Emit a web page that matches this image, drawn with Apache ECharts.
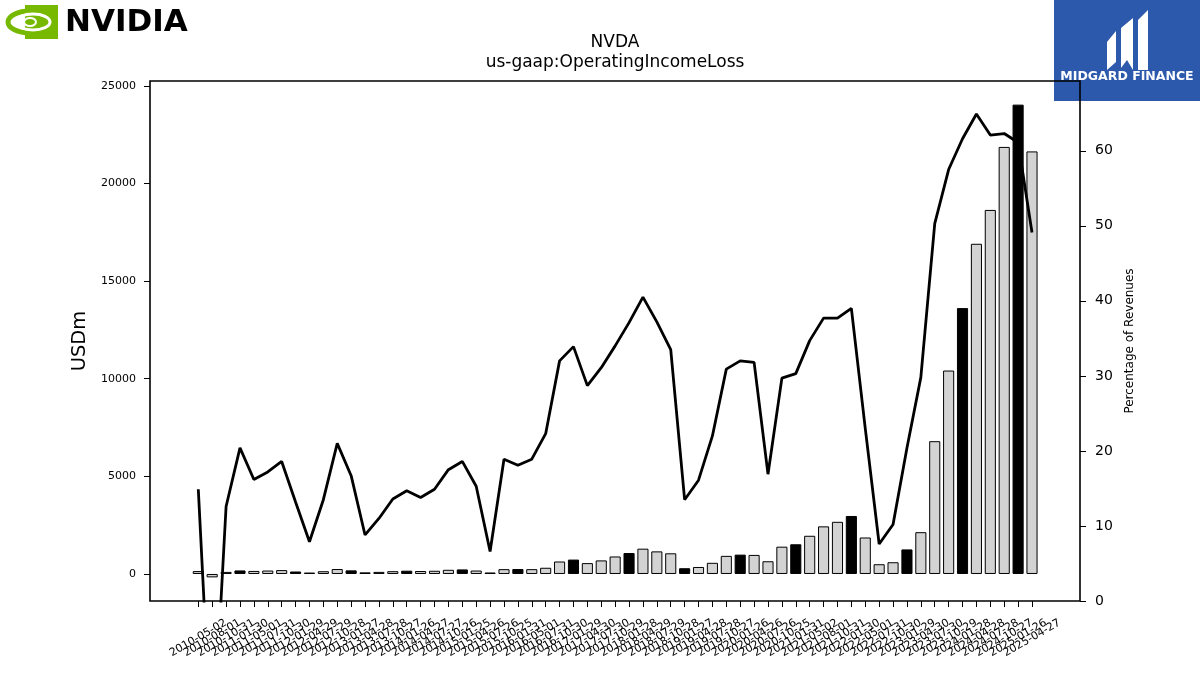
<!DOCTYPE html>
<html>
<head>
<meta charset="utf-8">
<script src="https://cdn.jsdelivr.net/npm/echarts@6/dist/echarts.min.js"></script>
<style>
html,body{margin:0;padding:0;background:#fff;}
#chart{width:1200px;height:675px;}
</style>
</head>
<body>
<div id="chart"></div>
<script>
// ---- data ----
const periods = [
  '2010-05-02','2010-08-01','2010-10-31','2011-01-30',
  '2011-05-01','2011-07-31','2011-10-30','2012-01-29',
  '2012-04-29','2012-07-29','2012-10-28','2013-01-27',
  '2013-04-28','2013-07-28','2013-10-27','2014-01-26',
  '2014-04-27','2014-07-27','2014-10-26','2015-01-25',
  '2015-04-26','2015-07-26','2015-10-25','2016-01-31',
  '2016-05-01','2016-07-31','2016-10-30','2017-01-29',
  '2017-04-30','2017-07-30','2017-10-29','2018-01-28',
  '2018-04-29','2018-07-29','2018-10-28','2019-01-27',
  '2019-04-28','2019-07-28','2019-10-27','2020-01-26',
  '2020-04-26','2020-07-26','2020-10-25','2021-01-31',
  '2021-05-02','2021-08-01','2021-10-31','2022-01-30',
  '2022-05-01','2022-07-31','2022-10-30','2023-01-29',
  '2023-04-30','2023-07-30','2023-10-29','2024-01-28',
  '2024-04-28','2024-07-28','2024-10-27','2025-01-26',
  '2025-04-27'
];
const operatingIncome = [
  149, -174, 106, 181,
  156, 175, 198, 126,
  73, 141, 253, 185,
  84, 107, 143, 168,
  152, 164, 214, 233,
  176, 76, 247, 254,
  247, 318, 639, 737,
  556, 694, 896, 1073,
  1295, 1157, 1058, 294,
  358, 571, 927, 990,
  976, 651, 1398, 1521,
  1956, 2438, 2671, 2970,
  1868, 499, 601, 1257,
  2140, 6800, 10417, 13615,
  16909, 18642, 21869, 24034,
  21638
];
const marginPct = [
  14.9, -21.5, 12.6, 20.4,
  16.2, 17.2, 18.6, 13.2,
  7.9, 13.5, 21.0, 16.7,
  8.8, 11.0, 13.6, 14.7,
  13.8, 14.9, 17.5, 18.6,
  15.3, 6.6, 18.9, 18.1,
  18.9, 22.3, 32.0, 33.9,
  28.7, 31.1, 34.0, 37.1,
  40.5, 37.2, 33.5, 13.5,
  16.1, 22.0, 30.9, 32.0,
  31.8, 16.9, 29.7, 30.3,
  34.7, 37.7, 37.7, 39.0,
  23.0, 7.6, 10.2, 20.4,
  29.8, 50.3, 57.5, 61.6,
  64.9, 62.1, 62.3, 61.1,
  49.1
];
const leftTicks = [0, 5000, 10000, 15000, 20000, 25000];
const rightTicks = [0, 10, 20, 30, 40, 50, 60];

// ---- chart ----
const FONT = 'DejaVu Sans';
const chart = echarts.init(document.getElementById('chart'), null, {renderer: 'canvas'});

const barData = operatingIncome.map((v, i) => ({
  value: v,
  itemStyle: { color: periods[i].slice(5, 7) === '01' ? '#000000' : '#d3d3d3' }
}));

const plotL = 150, plotR = 1080, plotT = 81, plotB = 601;
const n = periods.length;
const firstTick = 198.3, lastTick = 1032;
const band = (lastTick - firstTick) / (n - 1);
const gridLeft = firstTick - band / 2;
const gridRightEdge = lastTick + band / 2;

const option = {
  animation: false,
  backgroundColor: '#ffffff',
  grid: {
    left: gridLeft,
    right: 1200 - gridRightEdge,
    top: plotT,
    bottom: 675 - plotB,
    containLabel: false
  },
  xAxis: {
    type: 'category',
    data: periods,
    boundaryGap: true,
    position: 'bottom',
    axisLine: { show: false, onZero: false },
    axisTick: { show: true, alignWithLabel: true, length: 6, lineStyle: { color: '#000', width: 1 } },
    axisLabel: {
      interval: 0, rotate: 30, align: 'center', verticalAlign: 'middle',
      margin: 37, fontFamily: FONT, fontSize: 11, color: '#000', hideOverlap: false
    },
    splitLine: { show: false }
  },
  yAxis: [
    {
      type: 'value', position: 'left', offset: gridLeft - plotL,
      min: -1384, max: 25244,
      axisLine: { show: false },
      axisTick: { show: true, length: 6, customValues: leftTicks, lineStyle: { color: '#000', width: 1 } },
      axisLabel: { customValues: leftTicks, formatter: v => String(v), fontFamily: FONT, fontSize: 11, color: '#000', margin: 14 },
      splitLine: { show: false },
      name: 'USDm', nameLocation: 'middle', nameGap: 60, nameRotate: 90,
      nameTextStyle: { fontFamily: FONT, fontSize: 19.5, color: '#000' }
    },
    {
      type: 'value', position: 'right', offset: plotR - gridRightEdge,
      min: 0, max: 69.3,
      axisLine: { show: false },
      axisTick: { show: true, length: 6, customValues: rightTicks, lineStyle: { color: '#000', width: 1 } },
      axisLabel: { customValues: rightTicks, formatter: v => String(v), fontFamily: FONT, fontSize: 14, color: '#000', margin: 15 },
      splitLine: { show: false },
      name: 'Percentage of Revenues', nameLocation: 'middle', nameGap: 41, nameRotate: 90,
      nameTextStyle: { fontFamily: FONT, fontSize: 12, color: '#000' }
    }
  ],
  series: [
    {
      type: 'bar', yAxisIndex: 0, data: barData, barWidth: '80%',
      itemStyle: { borderColor: '#000', borderWidth: 1 }, z: 2
    },
    {
      type: 'line', yAxisIndex: 1, data: marginPct, symbol: 'none', clip: true,
      lineStyle: { color: '#000', width: 2.8 }, z: 3
    }
  ],
  graphic: [
    { type: 'rect', shape: { x: plotL, y: plotT, width: plotR - plotL, height: plotB - plotT },
      style: { fill: 'none', stroke: '#000', lineWidth: 1.6 }, z: 100 },
    { type: 'text', x: 615, y: 43, style: { text: 'NVDA', font: '17px "DejaVu Sans"', fill: '#000', textAlign: 'center', textVerticalAlign: 'middle' } },
    { type: 'text', x: 615, y: 63, style: { text: 'us-gaap:OperatingIncomeLoss', font: '17px "DejaVu Sans"', fill: '#000', textAlign: 'center', textVerticalAlign: 'middle' } },
    // NVIDIA logo
    { type: 'ellipse', shape: { cx: 30, cy: 22, rx: 22, ry: 11 }, style: { fill: 'none', stroke: '#76b900', lineWidth: 5 } },
    { type: 'rect', shape: { x: 25, y: 5, width: 33, height: 34 }, style: { fill: '#76b900' } },
    { type: 'ellipse', shape: { cx: 33, cy: 22, rx: 17, ry: 8 }, style: { fill: 'none', stroke: '#ffffff', lineWidth: 3 } },
    { type: 'ellipse', shape: { cx: 30, cy: 22, rx: 6, ry: 4 }, style: { fill: '#76b900', stroke: '#ffffff', lineWidth: 2 } },
    { type: 'text', x: 65, y: 23, style: { text: 'NVIDIA', font: 'bold 31px "DejaVu Sans"', fill: '#000', textAlign: 'left', textVerticalAlign: 'middle' } },
    // Midgard logo
    { type: 'rect', shape: { x: 1054, y: 0, width: 146, height: 101 }, style: { fill: '#2c59ab' } },
    { type: 'polygon', shape: { points: [[1107, 42], [1116, 31], [1116, 62], [1107, 70]] }, style: { fill: '#ffffff' } },
    { type: 'polygon', shape: { points: [[1121, 28], [1133, 18], [1133, 70], [1127, 60], [1121, 68]] }, style: { fill: '#ffffff' } },
    { type: 'polygon', shape: { points: [[1138, 20], [1148, 10], [1148, 70], [1138, 70]] }, style: { fill: '#ffffff' } },
    { type: 'text', x: 1127, y: 77, style: { text: 'MIDGARD FINANCE', font: 'bold 12.5px "DejaVu Sans"', fill: '#ffffff', textAlign: 'center', textVerticalAlign: 'middle' } }
  ]
};
chart.setOption(option);
</script>
</body>
</html>
